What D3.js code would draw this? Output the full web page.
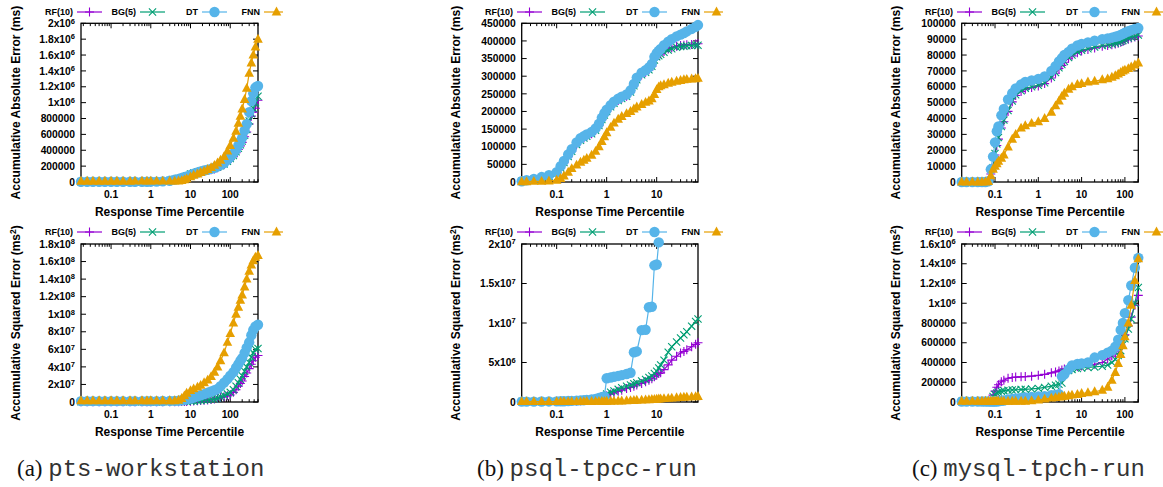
<!DOCTYPE html>
<html>
<head>
<meta charset="utf-8">
<script src="https://cdnjs.cloudflare.com/ajax/libs/d3/7.8.5/d3.min.js"></script>
<style>
  body { margin: 0; background: #fff; }
  svg { display: block; }
</style>
</head>
<body>
<div id="chart"></div>
<script>
// ---- series names / styles ----
const models = ['RF(10)', 'BG(5)', 'DT', 'FNN'];
const colors = ['#9400d3', '#009e73', '#56b4e9', '#e69f00'];
const shapes = ['plus', 'cross', 'circle', 'triangle'];

const xTickValues = [0.1, 1, 10, 100];
const captions = [['(a)', 'pts-workstation'], ['(b)', 'psql-tpcc-run'], ['(c)', 'mysql-tpch-run']];

// ---- (a) pts-workstation ----
const gridA = [0.0175, 0.025, 0.035, 0.05, 0.07, 0.1, 0.14, 0.2, 0.3, 0.4,
  0.6, 0.8, 1, 1.4, 2, 3, 4, 5, 6, 7, 8, 10, 12, 15, 18, 22, 27, 33, 40, 48,
  57, 70, 85, 100, 120, 140, 160, 180, 200, 230, 260, 300, 340, 380, 430, 500];
// absolute error, x1000 ms
const absA_RF = [3, 3, 3, 3, 3, 3, 3, 3, 3, 3, 3, 3, 4, 5, 8, 16, 28, 38, 48, 58,
  68, 90, 104, 118, 128, 138, 147, 155, 165, 180, 195, 220, 250, 285, 320,
  370, 410, 455, 500, 570, 630, 730, 830, 880, 930, 1030];
const absA_BG = [2, 2, 2, 2, 2, 2, 2, 2, 2, 2, 2, 2, 4, 6, 8, 18, 32, 45, 55, 65,
  75, 100, 112, 125, 136, 146, 155, 163, 175, 190, 205, 228, 262, 295, 335,
  380, 425, 470, 515, 590, 660, 770, 860, 930, 1000, 1080];
const absA_DT = [3, 3, 3, 3, 3, 3, 3, 3, 3, 3, 3, 3, 4, 5, 8, 16, 30, 40, 50, 60,
  70, 90, 105, 120, 133, 145, 155, 165, 180, 196, 215, 240, 280, 315, 360,
  410, 460, 510, 560, 650, 730, 880, 1020, 1120, 1190, 1210];
const absA_FNN = [10, 10, 10, 11, 11, 11, 11, 11, 11, 12, 12, 12, 12, 12, 12, 12, 12, 13, 18, 28,
  40, 65, 85, 102, 120, 138, 158, 182, 210, 240, 275, 320, 390, 460, 550,
  640, 740, 830, 920, 1040, 1180, 1370, 1500, 1600, 1700, 1800];
// squared error, x1e6 ms^2
const sqA_RF = [0.3, 0.3, 0.3, 0.3, 0.3, 0.3, 0.3, 0.3, 0.3, 0.3, 0.3, 0.3, 0.3, 0.3, 0.3,
  0.3, 0.35, 0.4, 0.45, 0.5, 0.6, 0.8, 1.0, 1.3, 1.6, 2.0, 2.4, 2.8, 3.3, 4.0,
  5, 6, 7, 8, 11, 14, 18, 21, 24, 29, 33, 38, 43, 47, 51, 53];
const sqA_BG = [0.4, 0.4, 0.4, 0.4, 0.4, 0.4, 0.4, 0.4, 0.4, 0.4, 0.4, 0.4, 0.4, 0.4, 0.4,
  0.45, 0.5, 0.55, 0.6, 0.7, 0.8, 1.0, 1.2, 1.5, 1.8, 2.2, 2.5, 3.0, 3.5, 4.5,
  6, 7.5, 9, 11, 14, 18, 22, 26, 30, 35, 40, 45, 51, 56, 60, 61];
const sqA_DT = [1, 1, 1, 1, 1, 1, 1, 1, 1, 1, 1, 1, 1, 1, 1.1,
  1.2, 1.3, 1.5, 2.0, 2.5, 3, 4, 5, 6.5, 7.7, 9, 10.5, 12, 13.4, 15,
  18, 22, 26, 30, 34, 39, 43, 47, 50, 56, 62, 68, 76, 82, 86, 88];
const sqA_FNN = [1.5, 1.5, 1.5, 1.5, 1.5, 1.5, 1.5, 1.5, 1.5, 1.5, 1.5, 1.5, 1.5, 1.5, 1.5,
  1.5, 1.5, 2, 4, 7, 10, 13, 15, 17, 19, 22, 25, 29, 34, 40,
  47, 56, 68, 78, 90, 100, 108, 116, 122, 131, 140, 149, 156, 161, 165, 167];

// ---- (b) psql-tpcc-run ----
const gridB = [0.02, 0.025, 0.035, 0.05, 0.07, 0.1, 0.12, 0.14, 0.17, 0.2,
  0.25, 0.3, 0.35, 0.4, 0.5, 0.6, 0.7, 0.8, 0.9, 1, 1.2, 1.4, 1.7, 2, 2.5,
  3, 3.5, 4, 5, 6, 7, 8, 9, 10, 11, 12, 14, 17, 20, 25, 30, 35, 40, 50, 60, 67];
const absB_RF = [2, 4, 7, 11, 16, 24, 40, 55, 72, 87, 106, 118, 125, 130, 137,
  147, 160, 177, 190, 200, 213, 223, 231, 237, 243, 255, 273, 290, 304, 311,
  318, 328, 348, 357, 361, 364, 370, 377, 381, 385, 387, 388, 389, 390, 391, 392];
const absB_BG = [2, 4, 7, 11, 16, 24, 40, 55, 72, 87, 106, 118, 125, 130, 137,
  147, 160, 177, 190, 200, 213, 223, 231, 237, 243, 255, 273, 290, 304, 311,
  318, 328, 346, 355, 358, 362, 368, 374, 378, 382, 384, 385, 386, 387, 388, 388];
const absB_DT = [2, 5, 9, 14, 19, 28, 45, 60, 78, 93, 112, 124, 130, 135, 142,
  152, 165, 182, 195, 205, 218, 228, 236, 242, 248, 260, 278, 296, 310, 317,
  325, 335, 355, 365, 372, 377, 388, 398, 405, 413, 418, 422, 427, 434, 440, 445];
const absB_FNN = [1, 1, 2, 2, 3, 5, 10, 17, 28, 38, 48, 56, 62, 67, 76,
  87, 100, 115, 128, 140, 155, 167, 178, 186, 194, 200, 207, 213, 220, 226,
  230, 236, 248, 262, 270, 273, 276, 280, 283, 286, 288, 290, 291, 292, 293, 294];
const sqB_RF = [0.05, 0.05, 0.05, 0.06, 0.07, 0.08, 0.09, 0.1, 0.11, 0.12, 0.14, 0.16, 0.18, 0.2, 0.24,
  0.3, 0.38, 0.5, 0.65, 0.8, 1.0, 1.15, 1.35, 1.5, 1.7, 1.85, 2.0, 2.15, 2.35, 2.55,
  2.75, 2.95, 3.2, 3.4, 3.6, 3.7, 4.1, 4.7, 5.3, 5.8, 6.2, 6.4, 6.6, 7.0, 7.3, 7.5];
const sqB_BG = [0.05, 0.05, 0.05, 0.06, 0.07, 0.08, 0.09, 0.1, 0.11, 0.12, 0.14, 0.16, 0.18, 0.2, 0.24,
  0.3, 0.4, 0.55, 0.75, 1.0, 1.25, 1.4, 1.6, 1.8, 2.0, 2.15, 2.3, 2.45, 2.65, 2.85,
  3.1, 3.3, 3.6, 3.9, 4.3, 4.7, 5.3, 6.3, 7.0, 7.6, 8.1, 8.5, 8.9, 9.6, 10.2, 10.5];
const sqB_DT = [0.05, 0.05, 0.05, 0.06, 0.07, 0.08, 0.09, 0.1, 0.12, 0.14, 0.17, 0.2, 0.23, 0.27, 0.32,
  0.4, 0.5, 0.6, 0.7, 3.0, 3.1, 3.2, 3.3, 3.4, 3.55, 3.7, 6.3, 6.4, 9.1, 9.15,
  12.0, 12.05, 17.3, 17.4, 20.2, null, null, null, null, null, null, null, null, null, null, null];
const sqB_FNN = [0.05, 0.05, 0.05, 0.05, 0.05, 0.05, 0.05, 0.05, 0.05, 0.05, 0.06, 0.06, 0.06, 0.07, 0.07,
  0.08, 0.08, 0.09, 0.09, 0.1, 0.11, 0.12, 0.13, 0.14, 0.16, 0.18, 0.2, 0.22, 0.25, 0.28,
  0.3, 0.32, 0.34, 0.36, 0.38, 0.4, 0.43, 0.47, 0.5, 0.54, 0.57, 0.6, 0.62, 0.65, 0.68, 0.7];

// ---- (c) mysql-tpch-run ----
const gridC = [0.017, 0.022, 0.03, 0.04, 0.05, 0.06, 0.07, 0.08, 0.09, 0.1,
  0.11, 0.12, 0.14, 0.16, 0.2, 0.25, 0.3, 0.4, 0.5, 0.7, 1, 1.4, 2, 2.5, 3,
  3.5, 4, 5, 6, 8, 10, 14, 20, 30, 40, 50, 60, 70, 80, 90, 100, 120, 140, 170, 204];
const absC_RF = [0, 0, 0, 0, 0, 0, 0.3, 5, 9, 17, 23, 27, 34, 38, 44.5,
  50.5, 54.5, 57, 58.5, 59.5, 60.5, 62, 65.5, 68.5, 71.5, 73.5, 75.5, 78, 79.5, 81.5,
  82.5, 83.5, 84.5, 85.5, 86, 86.5, 87, 87.5, 88, 88.6, 89.2, 90, 90.7, 91.3, 92];
const absC_BG = [0, 0, 0, 0, 0, 0, 0.3, 5, 9, 18, 24, 28, 35, 39, 45,
  51, 55, 57.5, 59, 60, 61, 62.5, 66, 69, 72, 74, 76, 78.5, 80, 82,
  83, 84, 85, 86, 86.5, 87, 87.5, 88, 88.6, 89.2, 89.8, 90.7, 91.4, 92, 92.6];
const absC_DT = [0, 0, 0, 0, 0, 0, 0.5, 8, 16, 25, 32, 35, 42, 46, 52,
  56, 59, 61.5, 63, 64, 65, 66.5, 70, 73, 76, 78, 80, 82, 84, 86,
  87, 88, 89, 90, 90.5, 91, 91.5, 92, 92.7, 93.3, 94, 95, 95.7, 96.5, 97];
const absC_FNN = [0, 0, 0, 0, 0, 0, 0.3, 4, 8, 10, 11.5, 13, 15, 17, 22,
  27, 30, 34, 35.5, 37, 38, 40, 44, 48, 51, 54, 56, 58.5, 60, 61.5,
  62, 63, 63.5, 64.5, 65, 66, 67, 68, 69, 70, 70.5, 71.5, 72.5, 73.8, 75];
// squared error, x1000 ms^2
const sqC_RF = [5, 5, 5, 5, 5, 5, 5, 5, 70, 110, 150, 175, 205, 220, 240,
  248, 252, 255, 257, 262, 270, 280, 295, 305, 315, 325, 335, 345, 352, 360,
  365, 372, 382, 400, 435, 465, 490, 530, 580, 630, 680, 770, 860, 980, 1080];
const sqC_BG = [5, 5, 5, 5, 5, 5, 5, 5, 56, 75, 90, 100, 108, 115, 120,
  122, 124, 126, 128, 132, 138, 148, 160, 170, 180, 192, 300, 320, 330, 340,
  345, 350, 355, 362, 375, 400, 430, 470, 520, 580, 640, 740, 840, 1000, 1160];
const sqC_DT = [5, 5, 5, 5, 5, 5, 5, 5, 5, 5, 6, 8, 12, 15, 25,
  30, 35, 40, 45, 50, 55, 60, 68, 72, 78, 260, 280, 330, 370, 385,
  390, 400, 450, 475, 500, 520, 560, 630, 730, 800, 900, 1030, 1180, 1360, 1460];
const sqC_FNN = [8, 8, 8, 8, 8, 8, 8, 8, 8, 8, 8, 8, 8, 8, 8,
  8, 8, 8, 8, 12, 20, 30, 40, 45, 50, 54, 58, 64, 70, 76,
  86, 94, 104, 120, 150, 220, 300, 390, 480, 570, 660, 800, 980, 1230, 1450];

// ---- y tick values ----
const yTicksAbsA = [0, 2e5, 4e5, 6e5, 8e5, 1e6, 1.2e6, 1.4e6, 1.6e6, 1.8e6, 2e6];
const yTicksSqA = [0, 2e7, 4e7, 6e7, 8e7, 1e8, 1.2e8, 1.4e8, 1.6e8, 1.8e8];
const yTicksAbsB = [0, 50000, 100000, 150000, 200000, 250000, 300000, 350000, 400000, 450000];
const yTicksSqB = [0, 5e6, 1e7, 1.5e7, 2e7];
const yTicksAbsC = [0, 10000, 20000, 30000, 40000, 50000, 60000, 70000, 80000, 90000, 100000];
const yTicksSqC = [0, 2e5, 4e5, 6e5, 8e5, 1e6, 1.2e6, 1.4e6, 1.6e6];

const panels = [
  { col: 0, row: 0, grid: gridA, unit: 1e3, series: [absA_RF, absA_BG, absA_DT, absA_FNN], yTicks: yTicksAbsA, kind: 'abs' },
  { col: 0, row: 1, grid: gridA, unit: 1e6, series: [sqA_RF, sqA_BG, sqA_DT, sqA_FNN], yTicks: yTicksSqA, kind: 'sq' },
  { col: 1, row: 0, grid: gridB, unit: 1e3, series: [absB_RF, absB_BG, absB_DT, absB_FNN], yTicks: yTicksAbsB, kind: 'abs' },
  { col: 1, row: 1, grid: gridB, unit: 1e6, series: [sqB_RF, sqB_BG, sqB_DT, sqB_FNN], yTicks: yTicksSqB, kind: 'sq' },
  { col: 2, row: 0, grid: gridC, unit: 1e3, series: [absC_RF, absC_BG, absC_DT, absC_FNN], yTicks: yTicksAbsC, kind: 'abs' },
  { col: 2, row: 1, grid: gridC, unit: 1e3, series: [sqC_RF, sqC_BG, sqC_DT, sqC_FNN], yTicks: yTicksSqC, kind: 'sq' }
];

// ---- layout ----
const width = 1163, height = 487;
const colOffset = [0, 440, 880];
const frameX = [[81, 258], [521.7, 698], [961.7, 1138.3]];
const frameY = [[23.3, 182], [244, 402]];
const legendY = [12, 232];
const legendRight = [73, 136, 198, 260];
const captionX = [17, 477, 912];
const FONT = '"Liberation Sans", Arial, Helvetica, sans-serif';

const svg = d3.select('#chart').append('svg')
  .attr('width', width).attr('height', height)
  .style('font-family', FONT);

function marker(g, shape, color, x, y) {
  if (shape === 'circle') {
    g.append('circle').attr('cx', x).attr('cy', y).attr('r', 5.2).attr('fill', color);
  } else if (shape === 'triangle') {
    g.append('path')
      .attr('d', `M${x},${y - 5.4}L${x + 4.8},${y + 3.5}L${x - 4.8},${y + 3.5}Z`)
      .attr('fill', color);
  } else if (shape === 'plus') {
    g.append('path')
      .attr('d', `M${x - 4.5},${y}H${x + 4.5}M${x},${y - 4.5}V${y + 4.5}`)
      .attr('stroke', color).attr('stroke-width', 1.1).attr('fill', 'none');
  } else {
    g.append('path')
      .attr('d', `M${x - 3.6},${y - 3.6}L${x + 3.6},${y + 3.6}M${x - 3.6},${y + 3.6}L${x + 3.6},${y - 3.6}`)
      .attr('stroke', color).attr('stroke-width', 1.1).attr('fill', 'none');
  }
}

function yLabel(sel, v) {
  if (v < 1e6) { sel.text(String(v)); return; }
  const e = Math.floor(Math.log10(v) + 1e-9);
  const m = +(v / Math.pow(10, e)).toFixed(2);
  sel.append('tspan').text(m + 'x10');
  sel.append('tspan').attr('dy', '-0.45em').attr('font-size', '7.5px').text(e);
}

panels.forEach((p, pi) => {
  const [x0, x1] = frameX[p.col];
  const [y0, y1] = frameY[p.row];
  const off = colOffset[p.col];
  const g = svg.append('g');

  const x = d3.scaleLog().domain(d3.extent(p.grid)).range([x0, x1]);
  const y = d3.scaleLinear().domain([0, d3.max(p.yTicks)]).range([y1, y0]);

  // frame
  g.append('rect').attr('x', x0).attr('y', y0).attr('width', x1 - x0).attr('height', y1 - y0)
    .attr('fill', 'none').attr('stroke', '#000').attr('stroke-width', 1.3);

  // x ticks (log, with minors), mirrored on top
  const [dmin, dmax] = x.domain();
  const ticks = [];
  for (let d = Math.floor(Math.log10(dmin)); d <= Math.ceil(Math.log10(dmax)); d++) {
    for (let k = 1; k <= 9; k++) {
      const v = k * Math.pow(10, d);
      if (v >= dmin && v <= dmax) ticks.push({ v, major: k === 1 });
    }
  }
  ticks.forEach(t => {
    const tx = x(t.v), len = t.major ? 5 : 2.8;
    g.append('line').attr('x1', tx).attr('x2', tx).attr('y1', y1).attr('y2', y1 - len)
      .attr('stroke', '#000').attr('stroke-width', 1);
    g.append('line').attr('x1', tx).attr('x2', tx).attr('y1', y0).attr('y2', y0 + len)
      .attr('stroke', '#000').attr('stroke-width', 1);
  });
  xTickValues.filter(v => v >= dmin && v <= dmax).forEach(v => {
    g.append('text').attr('x', x(v)).attr('y', y1 + 15.5).attr('text-anchor', 'middle')
      .attr('font-size', '10.3px').attr('font-weight', 'bold').text(String(v));
  });

  // y ticks, mirrored on right
  p.yTicks.forEach(v => {
    const ty = y(v);
    g.append('line').attr('x1', x0).attr('x2', x0 + 5).attr('y1', ty).attr('y2', ty)
      .attr('stroke', '#000').attr('stroke-width', 1);
    g.append('line').attr('x1', x1).attr('x2', x1 - 5).attr('y1', ty).attr('y2', ty)
      .attr('stroke', '#000').attr('stroke-width', 1);
    g.append('text').attr('x', x0 - 6).attr('y', ty + 3.7).attr('text-anchor', 'end')
      .attr('font-size', '10.3px').attr('font-weight', 'bold').call(yLabel, v);
  });

  // axis titles
  g.append('text').attr('x', (x0 + x1) / 2).attr('y', y1 + 34).attr('text-anchor', 'middle')
    .attr('font-size', '12px').attr('font-weight', 'bold').text('Response Time Percentile');
  const yt = g.append('text')
    .attr('transform', `translate(${off + 20},${(y0 + y1) / 2}) rotate(-90)`)
    .attr('text-anchor', 'middle').attr('font-size', '12px').attr('font-weight', 'bold');
  if (p.kind === 'abs') {
    yt.text('Accumulative Absolute Error (ms)');
  } else {
    yt.append('tspan').text('Accumulative Squared Error (ms');
    yt.append('tspan').attr('dy', -4.5).attr('font-size', '8.5px').text('2');
    yt.append('tspan').attr('dy', 4.5).text(')');
  }

  // series
  const line = d3.line().x(d => x(d.x)).y(d => y(d.y));
  p.series.forEach((vals, si) => {
    const pts = p.grid.map((gx, j) => ({ x: gx, y: vals[j] == null ? null : vals[j] * p.unit }))
      .filter(d => d.y != null);
    const sg = g.append('g');
    sg.append('path').attr('d', line(pts)).attr('fill', 'none')
      .attr('stroke', colors[si]).attr('stroke-width', 1.2);
    pts.forEach(d => marker(sg, shapes[si], colors[si], x(d.x), y(d.y)));
  });

  // legend (clipped to panel width)
  const clipId = 'legclip' + pi;
  svg.append('clipPath').attr('id', clipId)
    .append('rect').attr('x', off).attr('y', 0).attr('width', 283).attr('height', height);
  const lg = g.append('g').attr('clip-path', `url(#${clipId})`);
  models.forEach((m, si) => {
    const tr = off + legendRight[si];
    const ly = legendY[p.row];
    lg.append('text').attr('x', tr).attr('y', ly + 3.2).attr('text-anchor', 'end')
      .attr('font-size', '9px').attr('font-weight', 'bold').text(m);
    lg.append('line').attr('x1', tr + 4).attr('x2', tr + 29).attr('y1', ly).attr('y2', ly)
      .attr('stroke', colors[si]).attr('stroke-width', 1.2);
    marker(lg, shapes[si], colors[si], tr + 16.5, ly);
  });
});

// captions
captions.forEach((c, i) => {
  const t = svg.append('text').attr('x', captionX[i]).attr('y', 476);
  t.append('tspan').attr('font-family', '"Liberation Serif", "DejaVu Serif", serif')
    .attr('font-size', '23px').attr('fill', '#111').text(c[0] + ' ');
  t.append('tspan').attr('font-family', '"Liberation Mono", "DejaVu Sans Mono", monospace')
    .attr('font-size', '24px').attr('fill', '#333').text(c[1]);
});
</script>
</body>
</html>
